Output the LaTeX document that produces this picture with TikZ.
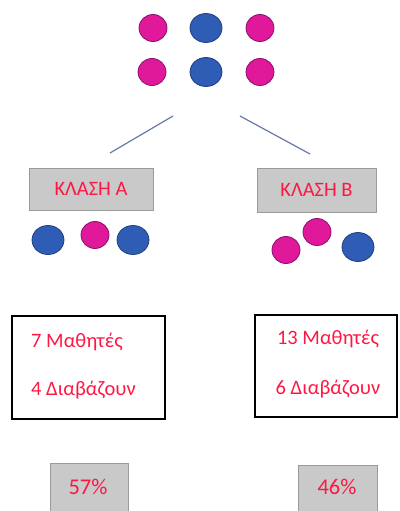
\documentclass[tikz,border=0pt]{standalone}
\usepackage{fontspec}
\setmainfont{Carlito}
\usetikzlibrary{shapes.geometric}
\definecolor{pinkball}{HTML}{E0189A}
\definecolor{pinkedge}{HTML}{8A1070}
\definecolor{blueball}{HTML}{2F5DB5}
\definecolor{blueedge}{HTML}{203F80}
\definecolor{txtred}{HTML}{FF1744}
\definecolor{boxgray}{HTML}{C9C9C9}
\definecolor{boxedge}{HTML}{9A9A9A}
\definecolor{linecol}{HTML}{6878A8}
\tikzset{
  pinkdot/.style={ellipse,minimum width=28pt,minimum height=27pt,inner sep=0pt,fill=pinkball,draw=pinkedge,line width=0.8pt},
  bluedot/.style={ellipse,minimum width=32pt,minimum height=29pt,inner sep=0pt,fill=blueball,draw=blueedge,line width=0.8pt},
  graybox/.style={rectangle,fill=boxgray,draw=boxedge,line width=1pt,text=txtred,inner sep=0pt,font=\fontsize{20.5}{23}\selectfont},
  infobox/.style={rectangle,draw=black,line width=1.3pt,inner sep=0pt},
  infotext/.style={text=txtred,font=\fontsize{20.5}{23}\selectfont,inner sep=0pt},
  pcttext/.style={text=txtred,font=\fontsize{22.5}{25}\selectfont,inner sep=0pt},
  branch/.style={draw=linecol,line width=1.2pt}
}
\begin{document}
\begin{tikzpicture}[x=1pt,y=-1pt]
\useasboundingbox (0,0) rectangle (399,511);
% top group
\node[pinkdot] (p1) at (153,28) {};
\node[bluedot] (b1) at (206,28) {};
\node[pinkdot] (p2) at (260,28) {};
\node[pinkdot] (p3) at (152,72) {};
\node[bluedot] (b2) at (206,72) {};
\node[pinkdot] (p4) at (260,72) {};
% branch lines
\coordinate (l1) at (173,116);
\coordinate (l2) at (110,153);
\coordinate (r1) at (240,116);
\coordinate (r2) at (310,154);
\draw[branch] (l1) -- (l2);
\draw[branch] (r1) -- (r2);
% class labels
\node[graybox,minimum width=124pt,minimum height=42pt] (ka) at (91,189) {ΚΛΑΣΗ Α};
\node[graybox,minimum width=119pt,minimum height=44pt] (kb) at (316.5,190) {ΚΛΑΣΗ Β};
% class A dots
\node[bluedot] (a1) at (48,240) {};
\node[pinkdot] (a2) at (95,235) {};
\node[bluedot] (a3) at (133,240) {};
% class B dots
\node[pinkdot] (c1) at (286,250) {};
\node[pinkdot] (c2) at (317,232) {};
\node[bluedot] (c3) at (358,247) {};
% info boxes
\node[infobox,minimum width=153pt,minimum height=103pt] (ia) at (88.5,367.5) {};
\node[infotext,anchor=west] (ia1) at (31,342) {7 Μαθητές};
\node[infotext,anchor=west] (ia2) at (31,390) {4 Διαβάζουν};
\node[infobox,minimum width=142pt,minimum height=102pt] (ib) at (326,366) {};
\node[infotext] (ib1) at (328,339) {13 Μαθητές};
\node[infotext] (ib2) at (328,389) {6 Διαβάζουν};
% percentages
\node[graybox,minimum width=78pt,minimum height=52pt] (pa) at (89,489) {};
\node[pcttext] (pat) at (88,487) {57\%};
\node[graybox,minimum width=79pt,minimum height=50pt] (pb) at (337.5,490) {};
\node[pcttext] (pbt) at (337,487) {46\%};
\end{tikzpicture}
\end{document}
